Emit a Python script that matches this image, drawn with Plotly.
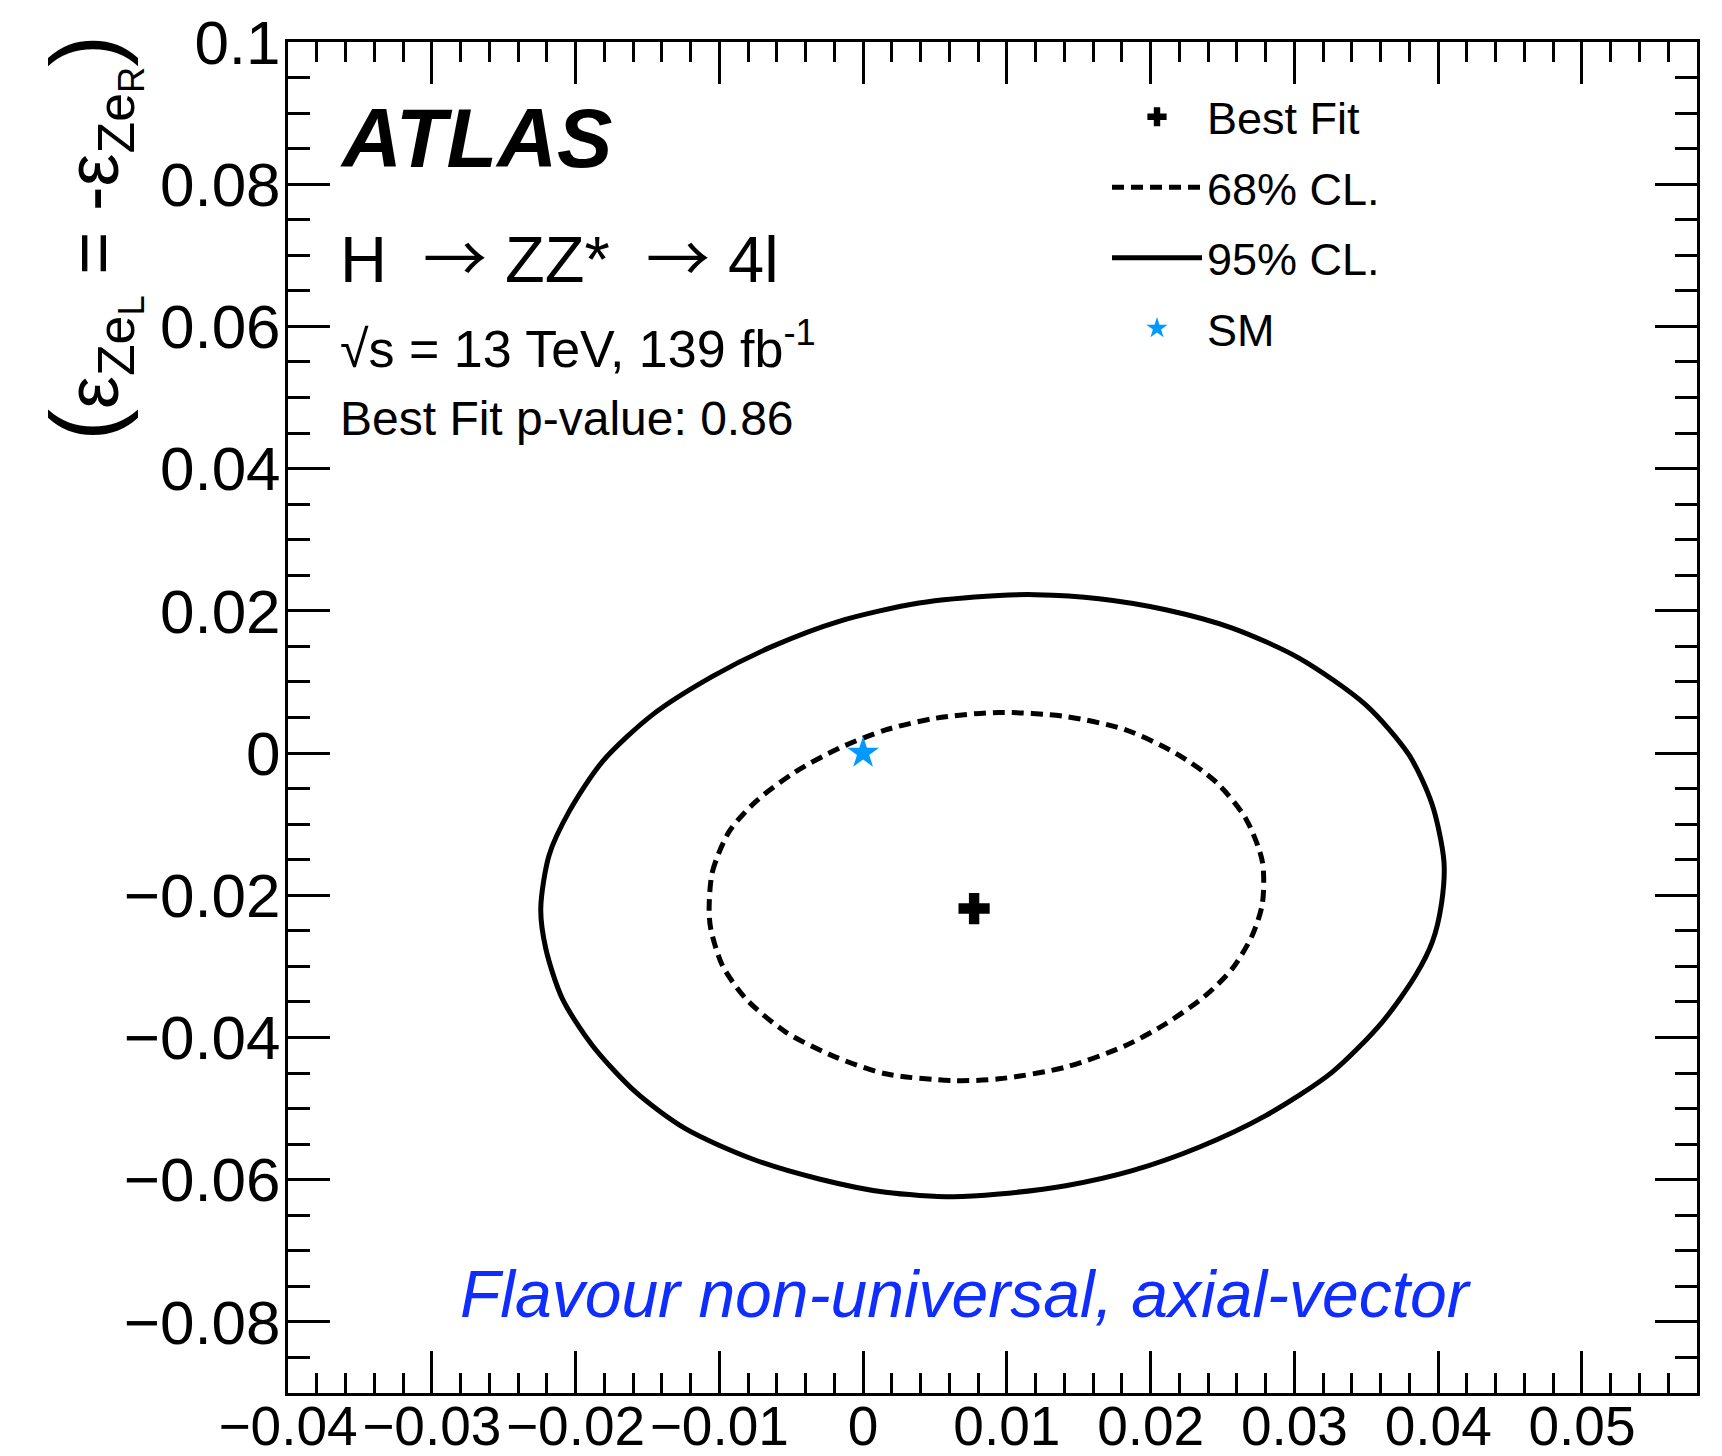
import numpy as np
import plotly.graph_objects as go

# ---------------- data ----------------
cl95_x = [-0.02242, -0.02184, -0.02045, -0.01813, -0.01466, -0.01048, -0.00631, -0.00167,
          0.00389, 0.00945, 0.0120, 0.01641, 0.02105, 0.02568, 0.03032, 0.03496, 0.03797,
          0.03959, 0.0404, 0.04023, 0.03959, 0.03843, 0.03611, 0.03263, 0.028, 0.02336,
          0.01872, 0.01409, 0.00945, 0.00621, 0.00157, -0.00306, -0.0077, -0.01233,
          -0.01581, -0.01883, -0.02092, -0.02207, -0.02242]
cl95_y = [-0.02187, -0.01436, -0.00824, -0.0012, 0.00537, 0.01078, 0.0150, 0.01853,
          0.0211, 0.02216, 0.02227, 0.02171, 0.02016, 0.01758, 0.01336, 0.00678, -0.00027,
          -0.00731, -0.01529, -0.02116, -0.02656, -0.03126, -0.03783, -0.04487, -0.05099,
          -0.05544, -0.05873, -0.06085, -0.06202, -0.0624, -0.06178, -0.0599, -0.05709,
          -0.05286, -0.04769, -0.04112, -0.03454, -0.0275, -0.02187]

cl68_x = [-0.01071, -0.01048, -0.00932, -0.00747, -0.00468, -0.00167, 0.00157, 0.00505,
          0.00945, 0.01409, 0.01827, 0.02174, 0.02452, 0.02661, 0.02777, 0.02777, 0.02707,
          0.02568, 0.02383, 0.02105, 0.01827, 0.01409, 0.00945, 0.00621, 0.00157, -0.0019,
          -0.00538, -0.00816, -0.00979, -0.0106, -0.01071]
cl68_y = [-0.02187, -0.01669, -0.01106, -0.00683, -0.00261, 0.00068, 0.00325, 0.0049,
          0.00571, 0.00514, 0.00325, -0.00003, -0.00402, -0.00919, -0.01529, -0.02116,
          -0.02563, -0.03032, -0.03408, -0.03807, -0.04112, -0.04417, -0.04582, -0.04606,
          -0.04511, -0.04276, -0.03924, -0.03454, -0.02985, -0.02468, -0.02187]

best_fit_x = [0.00772]
best_fit_y = [-0.02187]
sm_x = [0.0]
sm_y = [0.0]

x_tickvals = [-0.04, -0.03, -0.02, -0.01, 0.0, 0.01, 0.02, 0.03, 0.04, 0.05]
x_ticktext = ["\u22120.04", "\u22120.03", "\u22120.02", "\u22120.01", "0",
              "0.01", "0.02", "0.03", "0.04", "0.05"]
y_tickvals = [-0.08, -0.06, -0.04, -0.02, 0.0, 0.02, 0.04, 0.06, 0.08, 0.1]
y_ticktext = ["\u22120.08", "\u22120.06", "\u22120.04", "\u22120.02", "0",
              "0.02", "0.04", "0.06", "0.08", "0.1"]

# ---------------- figure ----------------
FONT = "Liberation Sans, Arial, Helvetica, sans-serif"

fig = go.Figure()

fig.add_trace(go.Scatter(
    x=cl95_x, y=cl95_y, mode="lines", name="95% CL.",
    line=dict(color="black", width=5, shape="spline", smoothing=0.8),
    legendrank=3, legendgroup="c", hoverinfo="skip"))
fig.add_trace(go.Scatter(
    x=cl68_x, y=cl68_y, mode="lines", name="68% CL.",
    line=dict(color="black", width=5, dash="12px,7px", shape="spline", smoothing=0.8),
    legendrank=2, legendgroup="b", hoverinfo="skip"))
fig.add_trace(go.Scatter(
    x=sm_x, y=sm_y, mode="markers", name="SM",
    marker=dict(symbol="star", size=24, color="rgb(0,153,255)", line=dict(width=0)),
    legendrank=4, legendgroup="d"))
fig.add_trace(go.Scatter(
    x=best_fit_x, y=best_fit_y, mode="markers", name="Best Fit",
    marker=dict(symbol="cross", size=26, color="black", line=dict(width=0)),
    legendrank=1, legendgroup="a"))

x_minor = np.round(np.arange(-0.04, 0.0581, 0.002), 4).tolist()
y_minor = np.round(np.arange(-0.09, 0.1001, 0.005), 4).tolist()

axis_common = dict(
    showgrid=False, zeroline=False, showline=True, linecolor="black", linewidth=3,
    mirror="allticks", ticks="inside", ticklen=42, tickwidth=3, tickcolor="black",
    automargin=False,
)

fig.update_xaxes(
    range=[-0.04, 0.058], tickmode="array", tickvals=x_tickvals, ticktext=x_ticktext,
    tickfont=dict(family=FONT, size=55, color="black"), ticklabelstandoff=-17,
    minor=dict(tickmode="array", tickvals=x_minor, ticks="inside", ticklen=20,
               tickwidth=3, tickcolor="black", showgrid=False),
    **axis_common)
fig.update_yaxes(
    range=[-0.09, 0.1], tickmode="array", tickvals=y_tickvals, ticktext=y_ticktext,
    tickfont=dict(family=FONT, size=62, color="black"), ticklabelstandoff=-8,
    minor=dict(tickmode="array", tickvals=y_minor, ticks="inside", ticklen=22,
               tickwidth=3, tickcolor="black", showgrid=False),
    **axis_common)

W, H = 1722, 1456
L, R, T, B = 288, 25, 42, 63
PW, PH = W - L - R, H - T - B


def px(X):
    return (X - L) / PW


def py(Y):
    return (H - B - Y) / PH


ARROW = '<span style="font-family:\'Noto Sans CJK SC\';font-size:64px">\u2192</span>'
NB = "\u00a0"

annotations = [
    dict(text="<b><i>ATLAS</i></b>", x=px(338), y=py(139), font=dict(size=83)),
    dict(text="H" + NB + NB + ARROW + " ZZ*" + NB + NB + ARROW + " 4l",
         x=px(338), y=py(254), font=dict(size=65)),
    dict(text="\u221As = 13 TeV, 139 fb<sup>-1</sup>", x=px(338), y=py(345), font=dict(size=52)),
    dict(text="Best Fit p-value: 0.86", x=px(338), y=py(418), font=dict(size=48)),
    dict(text="<i>Flavour non-universal, axial-vector</i>", x=px(458), y=py(1294),
         font=dict(size=66, color="rgb(15,45,255)")),
]
for a in annotations:
    a.update(xref="paper", yref="paper", xanchor="left", yanchor="middle",
             showarrow=False)
    f = dict(family=FONT, color="black")
    f.update(a["font"])
    a["font"] = f

annotations.append(dict(
    text='<span style="font-size:96px">(</span>\u03b5<sub>Ze<sub>L</sub></sub> = -\u03b5<sub>Ze<sub>R</sub></sub><span style="font-size:96px">)</span>',
    x=px(92), y=py(238), xref="paper", yref="paper", xanchor="center", yanchor="middle",
    textangle=-90, showarrow=False, font=dict(family=FONT, size=74, color="black")))

fig.update_layout(
    width=W, height=H, margin=dict(l=L, r=R, t=T, b=B, pad=0),
    paper_bgcolor="white", plot_bgcolor="white",
    annotations=annotations,
    showlegend=True,
    legend=dict(x=px(1107), y=py(81), xanchor="left", yanchor="top",
                bgcolor="rgba(0,0,0,0)", borderwidth=0,
                font=dict(family=FONT, size=45, color="black"),
                itemwidth=90, traceorder="grouped", tracegroupgap=9),
)

fig.write_html("out.html")
